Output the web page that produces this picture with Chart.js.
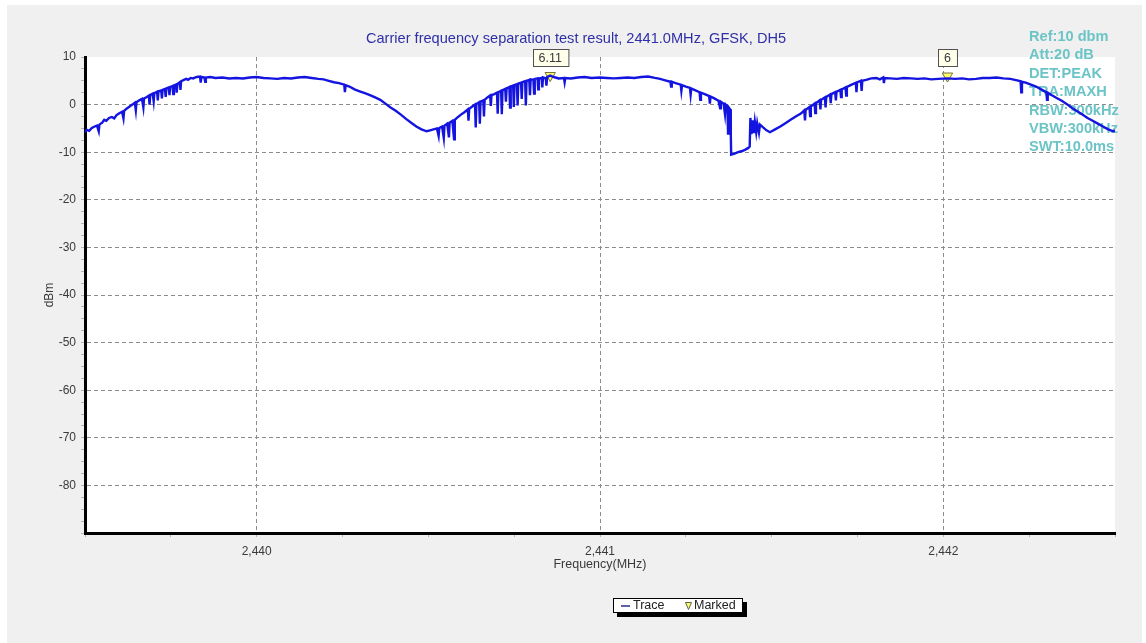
<!DOCTYPE html>
<html>
<head>
<title>Carrier frequency separation</title>
<script src="https://cdn.jsdelivr.net/npm/chart.js"></script>
<style>
    body { margin: 0; background: #fff; }
    #wrap { width: 1146px; height: 643px; }
</style>
</head>
<body>
<div id="wrap"><canvas id="spectrum" width="1146" height="643"></canvas></div>
<script>
// trace, each freq row matches the level row below it
const traceFreq = [
    2439.500, 2439.505, 2439.512, 2439.520, 2439.528, 2439.535, 2439.540, 2439.542, 2439.550, 2439.556,
    2439.562, 2439.570, 2439.578, 2439.585, 2439.592, 2439.600, 2439.608, 2439.612, 2439.614, 2439.622,
    2439.630, 2439.638, 2439.645, 2439.648, 2439.650, 2439.658, 2439.666, 2439.670, 2439.672, 2439.680,
    2439.686, 2439.688, 2439.690, 2439.697, 2439.700, 2439.702, 2439.710, 2439.712, 2439.714, 2439.722,
    2439.724, 2439.726, 2439.733, 2439.735, 2439.737, 2439.744, 2439.746, 2439.748, 2439.755, 2439.757,
    2439.759, 2439.765, 2439.767, 2439.769, 2439.776, 2439.778, 2439.780, 2439.788, 2439.795, 2439.800,
    2439.808, 2439.815, 2439.825, 2439.835, 2439.837, 2439.839, 2439.848, 2439.850, 2439.852, 2439.865,
    2439.880, 2439.900, 2439.920, 2439.940, 2439.960, 2439.980, 2440.000, 2440.020, 2440.040, 2440.060,
    2440.080, 2440.100, 2440.120, 2440.140, 2440.160, 2440.180, 2440.195, 2440.210, 2440.225, 2440.240,
    2440.255, 2440.257, 2440.259, 2440.270, 2440.285, 2440.300, 2440.315, 2440.330, 2440.345, 2440.360,
    2440.375, 2440.390, 2440.405, 2440.420, 2440.435, 2440.450, 2440.465, 2440.480, 2440.495, 2440.505,
    2440.515, 2440.525, 2440.530, 2440.532, 2440.540, 2440.545, 2440.547, 2440.555, 2440.560, 2440.562,
    2440.570, 2440.575, 2440.577, 2440.585, 2440.595, 2440.605, 2440.615, 2440.617, 2440.619, 2440.628,
    2440.636, 2440.638, 2440.640, 2440.648, 2440.650, 2440.652, 2440.660, 2440.662, 2440.664, 2440.672,
    2440.680, 2440.682, 2440.684, 2440.692, 2440.700, 2440.702, 2440.704, 2440.712, 2440.714, 2440.716,
    2440.724, 2440.726, 2440.728, 2440.736, 2440.738, 2440.740, 2440.747, 2440.749, 2440.751, 2440.758,
    2440.760, 2440.762, 2440.770, 2440.772, 2440.774, 2440.782, 2440.784, 2440.786, 2440.794, 2440.796,
    2440.798, 2440.806, 2440.808, 2440.810, 2440.818, 2440.820, 2440.822, 2440.830, 2440.832, 2440.834,
    2440.842, 2440.844, 2440.846, 2440.855, 2440.865, 2440.880, 2440.895, 2440.897, 2440.899, 2440.915,
    2440.935, 2440.955, 2440.975, 2441.000, 2441.020, 2441.040, 2441.060, 2441.080, 2441.100, 2441.120,
    2441.140, 2441.160, 2441.175, 2441.190, 2441.205, 2441.207, 2441.209, 2441.220, 2441.235, 2441.237,
    2441.239, 2441.250, 2441.262, 2441.264, 2441.266, 2441.278, 2441.290, 2441.292, 2441.294, 2441.305,
    2441.318, 2441.320, 2441.322, 2441.333, 2441.345, 2441.350, 2441.352, 2441.360, 2441.364, 2441.366,
    2441.371, 2441.373, 2441.375, 2441.379, 2441.381, 2441.382, 2441.392, 2441.402, 2441.412, 2441.422,
    2441.432, 2441.436, 2441.438, 2441.441, 2441.444, 2441.448, 2441.451, 2441.455, 2441.458, 2441.463,
    2441.466, 2441.475, 2441.485, 2441.495, 2441.510, 2441.525, 2441.540, 2441.555, 2441.570, 2441.585,
    2441.595, 2441.597, 2441.599, 2441.610, 2441.612, 2441.614, 2441.625, 2441.627, 2441.629, 2441.640,
    2441.642, 2441.644, 2441.655, 2441.657, 2441.659, 2441.670, 2441.672, 2441.674, 2441.685, 2441.687,
    2441.689, 2441.700, 2441.702, 2441.704, 2441.715, 2441.717, 2441.719, 2441.730, 2441.745, 2441.747,
    2441.749, 2441.760, 2441.762, 2441.764, 2441.775, 2441.790, 2441.805, 2441.815, 2441.825, 2441.827,
    2441.829, 2441.845, 2441.865, 2441.885, 2441.905, 2441.925, 2441.945, 2441.965, 2441.985, 2442.012,
    2442.035, 2442.055, 2442.075, 2442.095, 2442.115, 2442.135, 2442.155, 2442.175, 2442.195, 2442.215,
    2442.225, 2442.227, 2442.229, 2442.240, 2442.255, 2442.270, 2442.285, 2442.300, 2442.302, 2442.304,
    2442.315, 2442.330, 2442.345, 2442.360, 2442.375, 2442.390, 2442.405, 2442.420, 2442.435, 2442.450,
    2442.465, 2442.480, 2442.495, 2442.500
];
const traceLevel = [
    -5.8, -5.3, -5.5, -4.9, -4.6, -4.4, -5.6, -4.2, -3.8, -3.2,
    -3.4, -2.8, -2.6, -2.9, -2.2, -1.8, -1.5, -2.9, -1.3, -0.8,
    -0.4, 0.0, 0.4, -1.2, 0.5, 0.9, 1.2, -0.6, 1.3, 1.6,
    1.9, 0.0, 2.0, 2.3, 0.7, 2.4, 2.7, 0.9, 2.8, 3.0,
    1.3, 3.1, 3.3, 1.6, 3.4, 3.6, 2.0, 3.7, 3.9, 2.2,
    4.0, 4.2, 2.5, 4.3, 4.7, 3.1, 4.9, 5.2, 5.4, 5.2,
    5.6, 5.5, 5.8, 5.9, 4.6, 5.8, 5.7, 4.8, 5.7, 5.8,
    5.6, 5.7, 5.5, 5.6, 5.5, 5.7, 5.8, 5.6, 5.5, 5.4,
    5.6, 5.5, 5.7, 5.8, 5.6, 5.4, 5.3, 5.0, 4.7, 4.5,
    4.2, 2.6, 4.1, 3.8, 3.2, 2.8, 2.4, 2.0, 1.5, 1.0,
    0.2, -0.6, -1.3, -2.1, -3.0, -3.8, -4.6, -5.2, -5.6, -5.4,
    -5.2, -5.0, -6.6, -4.9, -4.6, -7.0, -4.4, -4.0, -6.9, -3.8,
    -3.4, -7.3, -3.2, -2.7, -2.1, -1.6, -1.0, -3.4, -0.9, -0.4,
    0.0, -4.8, 0.1, 0.5, -4.0, 0.6, 0.9, -2.5, 1.0, 1.5,
    1.9, -0.3, 2.0, 2.2, 2.5, -1.9, 2.6, 2.9, -2.0, 3.0,
    3.3, 0.6, 3.4, 3.7, -0.6, 3.8, 4.0, -0.5, 4.1, 4.3,
    -0.2, 4.4, 4.6, 1.2, 4.7, 4.9, -0.2, 5.0, 5.2, 2.0,
    5.3, 5.2, 2.3, 5.4, 5.5, 3.2, 5.5, 5.6, 3.6, 5.7,
    5.5, 4.0, 5.8, 6.1, 5.8, 5.5, 5.6, 4.7, 5.6, 5.5,
    5.7, 5.8, 5.6, 5.7, 5.6, 5.5, 5.6, 5.7, 5.6, 5.8,
    5.9, 5.6, 5.4, 5.1, 4.8, 3.8, 4.8, 4.5, 4.2, 2.9,
    4.1, 3.8, 3.5, 2.1, 3.4, 3.0, 2.6, 1.0, 2.5, 2.2,
    1.8, 0.2, 1.7, 1.3, 0.8, -0.8, 0.6, 0.2, -2.0, 0.0,
    -0.4, -6.1, -0.6, -1.0, -6.3, -10.5, -10.3, -10.0, -9.8, -9.5,
    -9.1, -8.8, -2.8, -6.2, -3.3, -6.0, -3.6, -5.8, -3.9, -5.9,
    -4.2, -4.8, -5.4, -5.8, -5.2, -4.6, -3.9, -3.2, -2.5, -1.9,
    -1.2, -3.3, -1.1, -0.5, -2.4, -0.4, 0.2, -1.8, 0.3, 0.9,
    -1.0, 1.0, 1.5, -0.6, 1.6, 2.1, 0.3, 2.2, 2.6, 0.9,
    2.7, 3.1, 1.6, 3.2, 3.6, 1.9, 3.7, 4.1, 4.6, 2.6,
    4.7, 5.0, 2.9, 5.0, 5.2, 5.5, 5.6, 5.3, 5.7, 4.5,
    5.6, 5.5, 5.4, 5.6, 5.5, 5.4, 5.5, 5.3, 5.4, 5.5,
    5.4, 5.5, 5.3, 5.4, 5.6, 5.6, 5.7, 5.5, 5.4, 5.1,
    4.9, 2.6, 4.8, 4.6, 4.2, 3.8, 3.2, 2.6, 1.0, 2.5,
    2.0, 1.4, 0.8, 0.1, -0.7, -1.4, -2.1, -2.8, -3.4, -4.0,
    -4.6, -5.2, -5.6, -5.5
];

// the two marker readouts
const markerFreq = [2440.855, 2442.012];
const markerLevel = [6.11, 6.0];
const markerText = ['6.11', '6'];

const chartTitle = 'Carrier frequency separation test result, 2441.0MHz, GFSK, DH5';
const infoLines = ['Ref:10 dbm', 'Att:20 dB', 'DET:PEAK', 'TRA:MAXH', 'RBW:300kHz', 'VBW:300kHz', 'SWT:10.0ms'];

const FONT = '"Liberation Sans", Arial, sans-serif';
const traceColor = '#1414e0';
const labelColor = '#3a3a3a';

// grey panel, title, info block, marker boxes and legend
const decor = {
    id: 'decor',
    beforeDraw(chart) {
        const { ctx, chartArea: a } = chart;
        ctx.save();
        ctx.fillStyle = '#ffffff';
        ctx.fillRect(0, 0, chart.width, chart.height);
        ctx.fillStyle = '#f0f0f0';
        ctx.fillRect(7, 5, 1135, 638);
        ctx.fillStyle = '#ffffff';
        ctx.fillRect(a.left, a.top, a.right - a.left, a.bottom - a.top);

        ctx.font = '14.6px ' + FONT;
        ctx.fillStyle = '#2f2fa8';
        ctx.textAlign = 'center';
        ctx.textBaseline = 'middle';
        ctx.fillText(chartTitle, 576, 39);
        ctx.restore();
    },
    beforeDatasetsDraw(chart) {
        const ctx = chart.ctx;
        ctx.save();
        ctx.font = 'bold 14.6px ' + FONT;
        ctx.fillStyle = '#6cc4c7';
        ctx.textAlign = 'left';
        ctx.textBaseline = 'middle';
        infoLines.forEach((t, i) => ctx.fillText(t, 1029, 37 + i * 18.4));
        ctx.restore();
    },
    afterDatasetsDraw(chart) {
        const ctx = chart.ctx;
        const xs = chart.scales.x, ys = chart.scales.y;
        ctx.save();
        ctx.font = '12.5px ' + FONT;
        ctx.textAlign = 'center';
        ctx.textBaseline = 'middle';
        markerFreq.forEach((f, i) => {
            const px = xs.getPixelForValue(f);
            const py = ys.getPixelForValue(markerLevel[i]);
            const w = ctx.measureText(markerText[i]).width + 12;
            const bx = Math.round(px - w / 2) + 0.5, by = Math.round(py - 27) + 0.5;
            ctx.fillStyle = '#ffffea';
            ctx.fillRect(bx, by, w, 17);
            ctx.strokeStyle = '#505050';
            ctx.lineWidth = 1;
            ctx.strokeRect(bx, by, w, 17);
            ctx.fillStyle = labelColor;
            ctx.fillText(markerText[i], px, by + 9);
        });
        ctx.restore();
    },
    afterDraw(chart) {
        const ctx = chart.ctx;
        ctx.save();
        ctx.fillStyle = '#000';
        ctx.fillRect(617, 602, 130, 15);
        ctx.fillStyle = '#fff';
        ctx.fillRect(613, 598, 130, 15);
        ctx.strokeStyle = '#000';
        ctx.lineWidth = 1;
        ctx.strokeRect(613.5, 598.5, 129, 14);

        ctx.strokeStyle = '#2a2a90';
        ctx.lineWidth = 1.5;
        ctx.beginPath();
        ctx.moveTo(621, 606);
        ctx.lineTo(630, 606);
        ctx.stroke();

        ctx.fillStyle = '#ffff66';
        ctx.strokeStyle = '#606050';
        ctx.lineWidth = 1;
        ctx.beginPath();
        ctx.moveTo(685.5, 602.5);
        ctx.lineTo(691.5, 602.5);
        ctx.lineTo(688.5, 609.5);
        ctx.closePath();
        ctx.fill();
        ctx.stroke();

        ctx.font = '12.5px ' + FONT;
        ctx.fillStyle = '#222';
        ctx.textAlign = 'left';
        ctx.textBaseline = 'middle';
        ctx.fillText('Trace', 633, 606);
        ctx.fillText('Marked', 694, 606);
        ctx.restore();
    }
};

const isWhole = (v, step) => Math.abs(v / step - Math.round(v / step)) < 1e-6;

new Chart(document.getElementById('spectrum'), {
    type: 'scatter',
    data: {
        datasets: [{
            label: 'Trace',
            data: traceFreq.map((f, i) => ({ x: f, y: traceLevel[i] })),
            showLine: true,
            borderColor: traceColor,
            borderWidth: 2.4,
            pointRadius: 0,
            tension: 0
        }, {
            label: 'Marked',
            data: markerFreq.map((f, i) => ({ x: f, y: markerLevel[i] })),
            pointStyle: 'triangle',
            rotation: 180,
            pointRadius: 6,
            backgroundColor: '#ffff66',
            borderColor: '#707040',
            borderWidth: 1
        }]
    },
    options: {
        responsive: false,
        animation: false,
        layout: { padding: { top: 57, right: 31, left: 0, bottom: 0 } },
        plugins: {
            legend: { display: false },
            tooltip: { enabled: false }
        },
        scales: {
            x: {
                type: 'linear',
                min: 2439.5,
                max: 2442.5,
                afterFit(scale) { scale.height = 110; },
                ticks: {
                    stepSize: 0.25,
                    autoSkip: false,
                    maxRotation: 0,
                    padding: 7,
                    color: labelColor,
                    font: { family: FONT, size: 12 },
                    callback: v => (isWhole(v, 1) && v > 2439.6 && v < 2442.4) ? Math.round(v).toLocaleString('en-US') : ''
                },
                grid: {
                    color: ctx => (ctx.tick && isWhole(ctx.tick.value, 1) && ctx.tick.value > 2439.6 && ctx.tick.value < 2442.4) ? '#8c8c8c' : 'rgba(0,0,0,0)',
                    tickColor: '#b4b4b4',
                    tickLength: 4
                },
                border: { display: true, color: '#000', width: 3, dash: [4, 3] },
                title: {
                    display: true,
                    text: 'Frequency(MHz)',
                    color: labelColor,
                    font: { family: FONT, size: 12.5 },
                    padding: { top: 0, bottom: 71 }
                }
            },
            y: {
                min: -90,
                max: 10,
                afterFit(scale) { scale.width = 85; },
                ticks: {
                    stepSize: 2.5,
                    autoSkip: false,
                    padding: 5,
                    color: labelColor,
                    font: { family: FONT, size: 12 },
                    callback: v => (isWhole(v, 10) && v > -90) ? String(v) : ''
                },
                grid: {
                    color: ctx => (ctx.tick && isWhole(ctx.tick.value, 10) && ctx.tick.value > -90 && ctx.tick.value < 10) ? '#8c8c8c' : 'rgba(0,0,0,0)',
                    tickColor: '#b4b4b4',
                    tickLength: 4
                },
                border: { display: true, color: '#000', width: 3, dash: [4, 3] },
                title: {
                    display: true,
                    text: 'dBm',
                    color: labelColor,
                    font: { family: FONT, size: 12 },
                    padding: { top: 42, bottom: 0 }
                }
            }
        }
    },
    plugins: [decor]
});
</script>
</body>
</html>
